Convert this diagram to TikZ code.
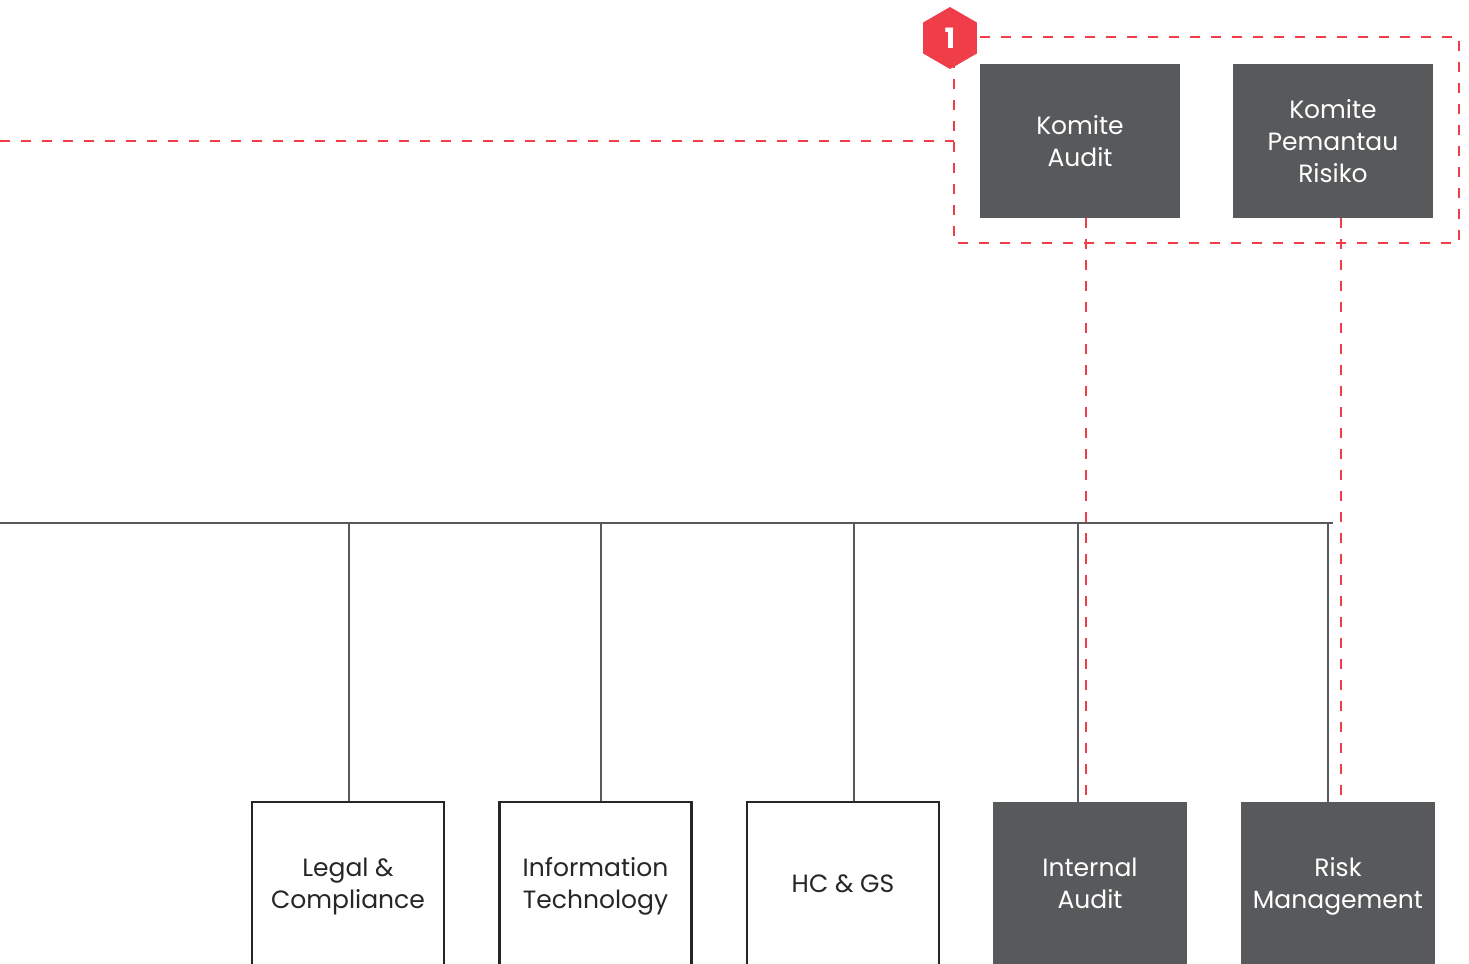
\documentclass[tikz,border=0pt]{standalone}
\usepackage{fontspec}
\setmainfont{Poppins}
\usetikzlibrary{shapes.geometric}
\definecolor{dgray}{HTML}{58595B}
\definecolor{lgray}{HTML}{58595B}
\definecolor{cred}{HTML}{EF3E4A}
\tikzset{
  every node/.style={font=\fontsize{12.5}{16}\selectfont, align=center, inner sep=0pt},
  darkbox/.style={fill=dgray, text=white, minimum width=100pt, minimum height=77pt},
  lowdark/.style={fill=dgray, text=white, minimum width=97pt, minimum height=84pt},
  lowwhite/.style={draw=black!85, line width=1.3pt, text=black!85, minimum width=96pt, minimum height=84pt},
  reddash/.style={draw=cred, line width=1.4pt, dash pattern=on 5pt off 5.5pt},
  bus/.style={draw=lgray, line width=1.3pt},
  hex/.style={regular polygon, regular polygon sides=6, shape border rotate=30, fill=cred, text=white, minimum size=31pt, font=\fontsize{14}{14}\selectfont\bfseries}
}
\begin{document}
\begin{tikzpicture}[x=0.5pt,y=-0.5pt]
\useasboundingbox (0,0) rectangle (1469,964);
\clip (0,0) rectangle (1469,964);
% top committees
\node[darkbox] (ka) at (1080,141) {Komite\\Audit};
\node[darkbox] (kp) at (1333,141) {Komite\\Pemantau\\Risiko};
% dashed group frame
\coordinate (gtl) at (954,37);
\coordinate (gbr) at (1459,243);
\draw[reddash] (gtl) rectangle (gbr);
\coordinate (lft) at (0,141);
\draw[reddash] (lft) -- (lft -| gtl);
\node[hex] (badge) at (950,38) {1};
% bottom units
\node[lowwhite] (lc) at (348,886) {\strut Legal \&\\\strut Compliance};
\node[lowwhite] (it) at (595.5,886) {\strut Information\\\strut Technology};
\node[lowwhite] (hc) at (843,886) {\strut HC \& GS};
\node[lowdark] (ia) at (1090,886) {\strut Internal\\\strut Audit};
\node[lowdark] (rm) at (1338,886) {\strut Risk\\\strut Management};
% bus
\coordinate (bl) at (0,523);
\coordinate (br) at (1333,523);
\draw[bus] (bl) -- (br);
\draw[bus] (lc.north -| 349,0) -- (bl -| 349,0);
\draw[bus] (it.north -| 601,0) -- (bl -| 601,0);
\draw[bus] (hc.north -| 854,0) -- (bl -| 854,0);
\draw[bus] (ia.north -| 1078,0) -- (bl -| 1078,0);
\draw[bus] (rm.north -| 1328,0) -- (bl -| 1328,0);
% red dashed reporting lines
\draw[reddash] (ka.south -| 1086,0) -- (ia.north -| 1086,0);
\draw[reddash] (kp.south -| 1341,0) -- (rm.north -| 1341,0);
\end{tikzpicture}
\end{document}
